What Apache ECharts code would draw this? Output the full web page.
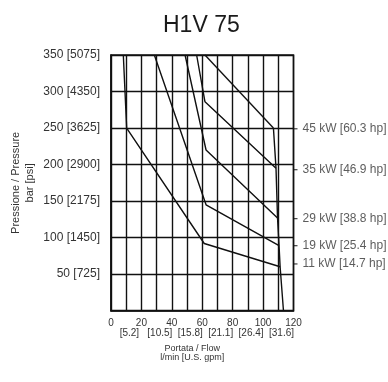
<!DOCTYPE html>
<html>
<head>
<meta charset="utf-8">
<script src="https://cdn.jsdelivr.net/npm/echarts@6/dist/echarts.min.js"></script>
<style>html,body{margin:0;padding:0;background:#fff}#c{width:388px;height:382px}</style>
</head>
<body>
<div id="c"></div>
<script>
// ---- data ----
const xTickLpm = [0, 20, 40, 60, 80, 100, 120];
const xTickGpm = ['', '5.2', '10.5', '15.8', '21.1', '26.4', '31.6'];
const yTickBar = [50, 100, 150, 200, 250, 300, 350];
const yTickPsi = [725, 1450, 2175, 2900, 3625, 4350, 5075];

const powerKW = [45, 35, 29, 19, 11];
const powerHP = ['60.3', '46.9', '38.8', '25.4', '14.7'];
const powerLabelBar = [249, 193, 126, 89, 64];

const curve45 = [[61.8, 350], [106.8, 250]];
const curve35 = [[56.3, 350], [61.8, 286], [108.5, 195]];
const curve29 = [[48.7, 350], [62.5, 220], [109.5, 127]];
const curve19 = [[28.5, 350], [62.5, 145], [110.5, 89]];
const curve11 = [[8.1, 350], [10.3, 250], [61.3, 92], [111.2, 60.2]];
const flowLimit = [[106.8, 250], [108.5, 195], [109.5, 127], [110.5, 89], [111.2, 60.2], [113.4, 0]];

// ---- chart ----
const chart = echarts.init(document.getElementById('c'), null, {renderer: 'canvas'});
const FONT = 'Liberation Sans, Arial, sans-serif';
const lineSeries = (name, data) => ({
  name, type: 'line', data, symbol: 'none', silent: true,
  lineStyle: {color: '#111', width: 1.4}, z: 3
});

const labelData = powerKW.map((kw, i) => [120, powerLabelBar[i], kw + ' kW [' + powerHP[i] + ' hp]']);

chart.setOption({
  animation: false,
  backgroundColor: '#fff',
  title: {
    text: 'H1V 75', left: 158, top: 9,
    textStyle: {fontFamily: FONT, fontSize: 23, fontWeight: 'normal', color: '#1a1a1a'}
  },
  grid: {
    left: 111, right: 94.5, top: 55, bottom: 71.3,
    show: true, borderColor: '#111', borderWidth: 1.5, backgroundColor: 'transparent'
  },
  xAxis: {
    type: 'value', min: 0, max: 120, interval: 10,
    name: 'Portata / Flow\nl/min [U.S. gpm]', nameLocation: 'middle', nameGap: 28,
    nameTextStyle: {fontFamily: FONT, fontSize: 9, color: '#333', lineHeight: 9, padding: [0, 20, 0, 0]},
    axisLine: {show: true, lineStyle: {color: '#111', width: 1.5}},
    axisTick: {show: false},
    splitLine: {show: true, lineStyle: {color: '#111', width: 1.4}},
    axisLabel: {
      margin: 8, color: '#333', fontFamily: FONT,
      formatter: function (v) {
        const i = xTickLpm.indexOf(v);
        if (i < 0) return '';
        if (!xTickGpm[i]) return '{a|' + v + '}';
        return '{a|' + v + '}\n{b|[' + xTickGpm[i] + ']}';
      },
      rich: {
        a: {fontFamily: FONT, fontSize: 10, lineHeight: 10, color: '#333'},
        b: {fontFamily: FONT, fontSize: 10, lineHeight: 10, color: '#333', padding: [0, 24, 0, 0]}
      }
    }
  },
  yAxis: {
    type: 'value', min: 0, max: 350, interval: 50,
    name: 'Pressione / Pressure\nbar [psi]', nameLocation: 'middle', nameGap: 74, nameRotate: 90,
    nameTextStyle: {fontFamily: FONT, fontSize: 11, color: '#333', lineHeight: 14},
    axisLine: {show: true, lineStyle: {color: '#111', width: 1.5}},
    axisTick: {show: false},
    splitLine: {show: true, lineStyle: {color: '#111', width: 1.4}},
    axisLabel: {
      margin: 11, color: '#333', fontFamily: FONT, fontSize: 12,
      formatter: function (v) {
        const i = yTickBar.indexOf(v);
        return i < 0 ? '' : v + ' [' + yTickPsi[i] + ']';
      }
    }
  },
  series: [
    lineSeries('45 kW', curve45),
    lineSeries('35 kW', curve35),
    lineSeries('29 kW', curve29),
    lineSeries('19 kW', curve19),
    lineSeries('11 kW', curve11),
    lineSeries('limit', flowLimit),
    {
      type: 'scatter', data: labelData, clip: false, silent: true,
      symbol: 'rect', symbolSize: [4, 1.2], symbolOffset: [2, 0],
      itemStyle: {color: '#111'},
      label: {
        show: true, position: 'right', distance: 5,
        fontFamily: FONT, fontSize: 12, color: '#333',
        formatter: p => p.data[2]
      }
    }
  ]
});
</script>
</body>
</html>
